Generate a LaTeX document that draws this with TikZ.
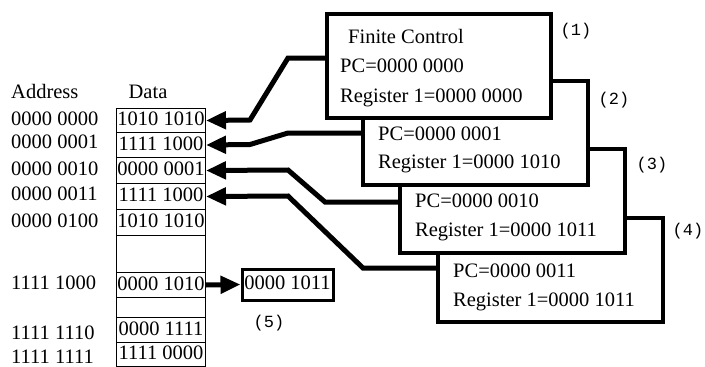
\documentclass[tikz,border=0pt]{standalone}
\usepackage{fontspec}
\setmainfont{Liberation Serif}
\newfontfamily\monofnt{Liberation Mono}
\usetikzlibrary{arrows.meta}
\begin{document}
\begin{tikzpicture}[x=1pt,y=-1pt,
  txt/.style={font=\fontsize{20.5}{24}\selectfont, inner sep=0pt, text height=14pt, text depth=4pt},
  lbl/.style={font=\monofnt\fontsize{17}{20}\selectfont, inner sep=0pt},
  memcell/.style={draw, line width=1pt, minimum width=89pt, inner sep=0pt, txt},
  cpubox/.style={draw, line width=4pt, fill=white, minimum width=224pt, minimum height=104pt, inner sep=0pt},
  conn/.style={line width=5pt, -{Triangle[length=20pt,width=17pt]}}]
\useasboundingbox (0,0) rectangle (705,367);

% memory column
\node[memcell, minimum height=24pt, anchor=north west] (m0) at (116,108) {1010 1010};
\node[memcell, minimum height=25pt, anchor=north west] (m1) at (116,132) {1111 1000};
\node[memcell, minimum height=26pt, anchor=north west] (m2) at (116,157) {0000 0001};
\node[memcell, minimum height=26pt, anchor=north west] (m3) at (116,183) {1111 1000};
\node[memcell, minimum height=26pt, anchor=north west] (m4) at (116,209) {1010 1010};
\node[memcell, minimum height=37pt, anchor=north west] (g1) at (116,235) {};
\node[memcell, minimum height=25pt, anchor=north west] (m5) at (116,272) {0000 1010};
\node[memcell, minimum height=20pt, anchor=north west] (g2) at (116,297) {};
\node[memcell, minimum height=25pt, anchor=north west] (m6) at (116,317) {0000 1111};
\node[memcell, minimum height=24pt, anchor=north west] (m7) at (116,342) {1111 0000};

% headers and addresses
\node[txt, anchor=west] (hA) at (11,93) {Address};
\node[txt] (hD) at (148,93) {Data};
\node[txt, anchor=west] (a0) at (11,120) {0000 0000};
\node[txt, anchor=west] (a1) at (11,143) {0000 0001};
\node[txt, anchor=west] (a2) at (11,170) {0000 0010};
\node[txt, anchor=west] (a3) at (11,195) {0000 0011};
\node[txt, anchor=west] (a4) at (11,222) {0000 0100};
\node[txt, anchor=west] (a5) at (11,284) {1111 1000};
\node[txt, anchor=west] (a6) at (11,334) {1111 1110};
\node[txt, anchor=west] (a7) at (11,358) {1111 1111};

% state boxes (back to front)
\node[cpubox, minimum width=225pt] (b4) at (550.5,269.5) {};
\node[txt, anchor=west] (t4a) at (453,272) {PC=0000 0011};
\node[txt, anchor=west] (t4b) at (453,301) {Register 1=0000 1011};

\node[cpubox, minimum width=225pt] (b3) at (512.5,200.5) {};
\node[txt, anchor=west] (t3a) at (415,202) {PC=0000 0010};
\node[txt, anchor=west] (t3b) at (415,231) {Register 1=0000 1011};

\node[cpubox, minimum width=225pt] (b2) at (475.5,133) {};
\node[txt, anchor=west] (t2a) at (378,135) {PC=0000 0001};
\node[txt, anchor=west] (t2b) at (378,163) {Register 1=0000 1010};

\node[cpubox] (b1) at (439,66) {};
\node[txt, anchor=west] (t1a) at (348,38) {Finite Control};
\node[txt, anchor=west] (t1b) at (340,67) {PC=0000 0000};
\node[txt, anchor=west] (t1c) at (340,97) {Register 1=0000 0000};

% result box
\node[draw, line width=3pt, minimum width=91pt, minimum height=31pt, txt] (b5) at (287.5,284.5) {0000 1011};

% labels
\node[lbl] (l1) at (576,31) {(1)};
\node[lbl] (l2) at (614,100) {(2)};
\node[lbl] (l3) at (652,165) {(3)};
\node[lbl] (l4) at (688,231) {(4)};
\node[lbl] (l5) at (269,323) {(5)};

% connectors
\draw[conn] (b1.west |- 0,58) -- (288,58) -- (250,120) -- (m0.east);
\draw[conn] (b2.west |- 0,133) -- (288,133) -- (250,144.5) -- (m1.east);
\draw[conn] (b3.west |- 0,202) -- (325,202) -- (288,170) -- (m2.east);
\draw[conn] (b4.west |- 0,268) -- (363,268) -- (288,196) -- (m3.east);
\draw[conn] (m5.east) -- (b5.west);
\end{tikzpicture}
\end{document}
